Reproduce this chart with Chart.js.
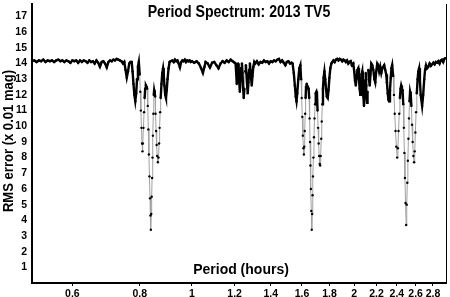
<!DOCTYPE html>
<html>
<head>
<meta charset="utf-8">
<script src="https://cdn.jsdelivr.net/npm/chart.js@4"></script>
<style>
  html, body { margin: 0; padding: 0; background: #fff; }
  #wrap { width: 450px; height: 297px; position: relative; }
</style>
</head>
<body>
<div id="wrap"><canvas id="spectrum"></canvas></div>
<script>
// ---------- textos ----------
const chartTitle = "Period Spectrum: 2013 TV5";
const xTitle = "Period (hours)";
const yTitle = "RMS error (x 0.01 mag)";

// ---------- eixos ----------
const xTickValues = [0.6, 0.8, 1, 1.2, 1.4, 1.6, 1.8, 2, 2.2, 2.4, 2.6, 2.8];
const yTickValues = [1, 2, 3, 4, 5, 6, 7, 8, 9, 10, 11, 12, 13, 14, 15, 16, 17];

// ---------- dados (período em horas / erro RMS) ----------
const periods = [
  0.505, 0.51, 0.515, 0.52, 0.525, 0.53, 0.535, 0.54, 0.545, 0.55,
  0.555, 0.56, 0.565, 0.57, 0.575, 0.58, 0.585, 0.59, 0.595, 0.60,
  0.605, 0.61, 0.615, 0.62, 0.625, 0.63, 0.635, 0.64, 0.645, 0.65,
  0.655, 0.66, 0.665, 0.67, 0.675, 0.68, 0.685, 0.69, 0.695, 0.70,
  0.705, 0.71, 0.715, 0.72, 0.725, 0.73, 0.735, 0.74, 0.745,
  0.749, 0.753, 0.757, 0.761, 0.765, 0.769, 0.773, 0.776, 0.779, 0.782,
  0.785, 0.788, 0.791, 0.794, 0.797, 0.800, 0.802, 0.804, 0.806, 0.808,
  0.8095, 0.811, 0.813, 0.815, 0.817, 0.819, 0.8215, 0.824, 0.826, 0.828,
  0.830, 0.832, 0.834, 0.836, 0.8375, 0.839, 0.8405, 0.842, 0.8435, 0.845,
  0.8465, 0.848, 0.8495, 0.851, 0.853, 0.8545, 0.856, 0.858, 0.860, 0.862,
  0.8645, 0.867, 0.869, 0.871, 0.873, 0.875, 0.878, 0.881, 0.884, 0.8865,
  0.889, 0.892, 0.895, 0.898, 0.901, 0.905, 0.909, 0.913,
  0.92, 0.925, 0.93, 0.935, 0.94, 0.945, 0.95, 0.955, 0.96, 0.965,
  0.97, 0.975, 0.98, 0.985, 0.99, 0.995, 1.00, 1.01, 1.02, 1.03,
  1.04, 1.048, 1.055, 1.06, 1.07, 1.08, 1.09, 1.10, 1.11, 1.12,
  1.13, 1.14, 1.15, 1.16, 1.17, 1.18, 1.19, 1.20,
  1.205, 1.208, 1.211, 1.214, 1.218, 1.221, 1.224, 1.227, 1.230, 1.234,
  1.238, 1.241, 1.244, 1.2475, 1.251, 1.255, 1.259, 1.262, 1.266, 1.269,
  1.273, 1.277, 1.281, 1.284, 1.288, 1.291, 1.295, 1.30, 1.305,
  1.31, 1.32, 1.33, 1.34, 1.35, 1.36, 1.37, 1.38, 1.39, 1.40,
  1.41, 1.42, 1.43, 1.44, 1.45, 1.46, 1.47, 1.48, 1.49, 1.50,
  1.51, 1.52, 1.53,
  1.537, 1.545, 1.552, 1.558, 1.563, 1.568, 1.575, 1.582, 1.589, 1.594,
  1.598, 1.602, 1.606, 1.610, 1.613, 1.616, 1.619, 1.622, 1.625, 1.628,
  1.632, 1.637, 1.641, 1.646, 1.650, 1.653, 1.656, 1.659, 1.662, 1.665,
  1.668, 1.671, 1.674, 1.677, 1.680, 1.684, 1.688, 1.692, 1.697, 1.702,
  1.706, 1.710, 1.714, 1.718, 1.722, 1.726, 1.729, 1.733, 1.737, 1.741,
  1.745, 1.750, 1.755, 1.761, 1.767, 1.773, 1.779, 1.786, 1.792, 1.799,
  1.806, 1.814, 1.822,
  1.83, 1.84, 1.85, 1.86, 1.87, 1.88, 1.89, 1.90, 1.91, 1.92,
  1.93, 1.94, 1.95, 1.96, 1.97, 1.98,
  1.992, 2.000, 2.007, 2.014, 2.020, 2.028, 2.035, 2.041, 2.047, 2.053,
  2.058, 2.064, 2.070, 2.075, 2.080, 2.085, 2.091, 2.096, 2.101, 2.106,
  2.110, 2.113, 2.117, 2.124, 2.130, 2.137, 2.144, 2.151,
  2.16, 2.17, 2.18, 2.188, 2.197, 2.207, 2.215, 2.225, 2.235, 2.245,
  2.255, 2.273, 2.283, 2.293, 2.300, 2.308, 2.315, 2.322, 2.330, 2.338,
  2.345, 2.352,
  2.362, 2.370, 2.378, 2.386, 2.394, 2.403, 2.410, 2.417, 2.424, 2.431,
  2.438, 2.444, 2.452, 2.459, 2.466, 2.472, 2.478, 2.484, 2.490, 2.497,
  2.503, 2.509, 2.515, 2.521, 2.527, 2.533, 2.539, 2.546, 2.553, 2.560,
  2.567, 2.575, 2.583, 2.590, 2.597, 2.605, 2.613, 2.622, 2.630, 2.639,
  2.648, 2.657, 2.673, 2.685, 2.697, 2.707, 2.718,
  2.73, 2.745, 2.76, 2.775, 2.79, 2.805, 2.82, 2.835, 2.85, 2.865,
  2.88, 2.895, 2.91, 2.925, 2.94, 2.955
];

const rmsError = [
  14.15, 14.2, 14.1, 14.2, 14.15, 14.25, 14.1, 14.2, 14.15, 14.2,
  14.1, 14.2, 14.25, 14.15, 14.2, 14.1, 14.2, 14.15, 14.05, 14.2,
  14.15, 14.2, 14.05, 14.2, 14.1, 14.2, 14.15, 14.05, 14.2, 14.1,
  14.15, 14.0, 14.2, 14.05, 13.8, 14.1, 14.15, 14.0, 13.75, 14.1,
  14.2, 14.15, 14.25, 14.2, 14.3, 14.25, 14.2, 14.15, 14.0,
  14.1, 13.6, 13.1, 13.5, 14.0, 14.1, 14.1, 13.5, 12.7, 12.0,
  11.6, 12.1, 13.0, 13.8, 14.1, 13.3, 12.2, 11.0, 9.9, 8.9,
  8.4, 8.9, 9.9, 10.9, 11.8, 12.4, 12.6, 12.5, 12.4, 11.3,
  9.8, 8.2, 6.8, 5.4, 4.3, 3.4, 4.4, 5.5, 6.7, 8.0,
  9.4, 10.8, 12.0, 12.3, 12.1, 11.9, 10.8, 9.7, 8.8, 8.1,
  7.7, 8.0, 8.9, 9.9, 10.9, 11.8, 12.7, 13.4, 13.7, 13.3,
  12.6, 12.0, 11.8, 12.3, 13.0, 13.7, 14.1, 14.15,
  14.2, 14.1, 14.25, 14.15, 14.2, 14.0, 13.75, 14.1, 14.2, 14.15,
  14.25, 14.1, 14.2, 14.15, 14.2, 14.1, 14.15, 14.05, 14.15, 14.0,
  13.7, 13.4, 13.8, 14.1, 14.0, 13.75, 14.05, 14.1, 13.9, 13.7,
  14.0, 14.15, 14.05, 14.2, 14.1, 14.25, 14.15, 14.05,
  14.0, 13.4, 12.7, 13.3, 14.0, 13.6, 12.8, 12.2, 12.9, 13.7,
  14.0, 13.4, 12.5, 11.8, 12.4, 13.5, 13.9, 13.4, 12.6, 12.1,
  12.8, 13.6, 14.0, 13.6, 13.0, 12.6, 13.2, 13.8, 14.1,
  14.0, 14.15, 13.95, 14.1, 14.05, 14.2, 14.1, 14.15, 14.0, 14.15,
  14.1, 14.2, 14.15, 14.25, 14.3, 14.1, 14.2, 14.05, 13.9, 14.1,
  14.15, 14.0, 14.05,
  14.0, 13.4, 12.6, 11.9, 11.6, 12.1, 13.0, 13.7, 13.9, 13.0,
  11.8, 10.6, 9.4, 8.6, 8.2, 8.7, 9.7, 10.8, 11.8, 12.5,
  12.7, 12.4, 12.5, 12.4, 11.8, 10.5, 9.0, 7.5, 6.0, 4.6,
  3.4, 4.4, 5.6, 6.8, 8.0, 9.3, 10.5, 11.4, 12.1, 12.2,
  12.0, 11.0, 9.9, 8.9, 8.1, 7.6, 7.5, 8.1, 9.2, 10.3,
  11.4, 12.4, 13.1, 13.5, 13.0, 12.4, 11.9, 11.8, 12.3, 13.1,
  13.7, 14.0, 14.1,
  14.2, 14.1, 14.25, 14.3, 14.2, 14.3, 14.25, 14.15, 14.25, 14.2,
  14.1, 14.2, 14.0, 14.1, 14.15, 13.9,
  14.0, 13.5, 12.9, 12.6, 13.1, 13.6, 13.7, 13.0, 12.4, 12.0,
  12.6, 13.3, 13.5, 12.7, 11.9, 11.3, 12.1, 12.9, 13.4, 12.6,
  11.8, 11.5, 12.2, 13.6, 13.0, 12.6, 13.3, 14.0,
  13.9, 13.6, 13.0, 12.8, 13.5, 14.0, 13.9, 13.5, 13.8, 13.4,
  13.7, 13.9, 13.6, 13.3, 12.8, 12.1, 11.7, 11.6, 12.3, 13.1,
  13.7, 13.9,
  13.2, 12.0, 10.8, 9.7, 8.7, 8.0, 8.6, 9.7, 10.8, 11.8,
  12.4, 12.6, 12.4, 12.3, 11.4, 9.9, 8.3, 6.7, 5.1, 3.7,
  5.0, 6.4, 7.8, 9.2, 10.5, 11.6, 12.2, 12.0, 11.3, 10.1,
  9.0, 8.1, 7.7, 8.4, 9.6, 10.9, 12.1, 13.0, 13.5, 13.7,
  12.9, 12.0, 11.3, 12.0, 13.0, 13.6, 13.9,
  13.7, 13.8, 14.0, 13.85, 13.95, 14.05, 13.95, 14.1, 14.05, 14.15,
  14.0, 14.2, 14.25, 14.1, 14.3, 14.35
];

// ---------- utilitário ----------
const FONT = '"Liberation Sans", Arial, sans-serif';

// trechos profundos ficam pontilhados (linha cinza fina), o resto preto e grosso
function isDotted(seg) {
  const y0 = seg.p0.parsed.y;
  const y1 = seg.p1.parsed.y;
  return Math.min(y0, y1) < 11 || Math.abs(y1 - y0) > 1.0;
}

function drawText(ctx, text, x, y, size, sx, rot) {
  ctx.save();
  ctx.translate(x, y);
  if (rot) ctx.rotate(rot);
  ctx.scale(sx, 1);
  ctx.font = "bold " + size + "px " + FONT;
  ctx.fillText(text, 0, 0);
  ctx.restore();
}

// títulos desenhados dentro da área do gráfico + borda direita
const overlayPlugin = {
  id: "overlay",
  afterDraw(chart) {
    const { ctx, chartArea: a } = chart;
    ctx.save();
    ctx.strokeStyle = "#000";
    ctx.lineWidth = 1;
    ctx.beginPath();
    ctx.moveTo(a.right + 0.5, a.top);
    ctx.lineTo(a.right + 0.5, a.bottom);
    ctx.stroke();

    ctx.fillStyle = "#000";
    ctx.textAlign = "center";
    ctx.textBaseline = "middle";
    drawText(ctx, chartTitle, 239, 12, 17, 0.83, 0);
    drawText(ctx, xTitle, 241, 270, 14, 1, 0);
    drawText(ctx, yTitle, 9, 141, 15, 0.87, -Math.PI / 2);
    ctx.restore();
  }
};

// ---------- gráfico ----------
const ctx = document.getElementById("spectrum").getContext("2d");

new Chart(ctx, {
  type: "line",
  data: {
    datasets: [
      {
        data: periods.map((p, i) => ({ x: p, y: rmsError[i] })),
        borderColor: "#000",
        borderWidth: 2.4,
        pointRadius: 1.2,
        pointBackgroundColor: "#000",
        pointBorderWidth: 0,
        tension: 0,
        segment: {
          borderColor: (s) => (isDotted(s) ? "#a0a0a0" : "#000"),
          borderWidth: (s) => (isDotted(s) ? 1 : 2.4)
        }
      }
    ]
  },
  options: {
    responsive: true,
    maintainAspectRatio: false,
    animation: false,
    layout: { padding: { top: 0, right: 3, bottom: 0, left: 0 } },
    plugins: {
      legend: { display: false },
      tooltip: { enabled: false }
    },
    scales: {
      x: {
        type: "logarithmic",
        min: 0.505,
        max: 2.96,
        afterBuildTicks: (s) => { s.ticks = xTickValues.map((v) => ({ value: v })); },
        afterFit: (s) => { s.height = 14; },
        ticks: {
          autoSkip: false,
          maxRotation: 0,
          padding: 2,
          color: "#000",
          font: { family: FONT, size: 10.5, weight: "bold" },
          callback: (v) => String(v)
        },
        grid: { drawOnChartArea: false, drawTicks: true, tickLength: 3, color: "#000" },
        border: { display: true, color: "#000", width: 2 }
      },
      y: {
        min: 0,
        max: 17.8,
        afterBuildTicks: (s) => { s.ticks = yTickValues.map((v) => ({ value: v })); },
        afterFit: (s) => { s.width = 32; s.paddingTop = 0; s.paddingBottom = 0; },
        ticks: {
          padding: 5,
          color: "#000",
          font: { family: FONT, size: 10.5, weight: "bold" }
        },
        grid: { drawOnChartArea: false, drawTicks: false },
        border: { display: true, color: "#000", width: 2 }
      }
    }
  },
  plugins: [overlayPlugin]
});
</script>
</body>
</html>
